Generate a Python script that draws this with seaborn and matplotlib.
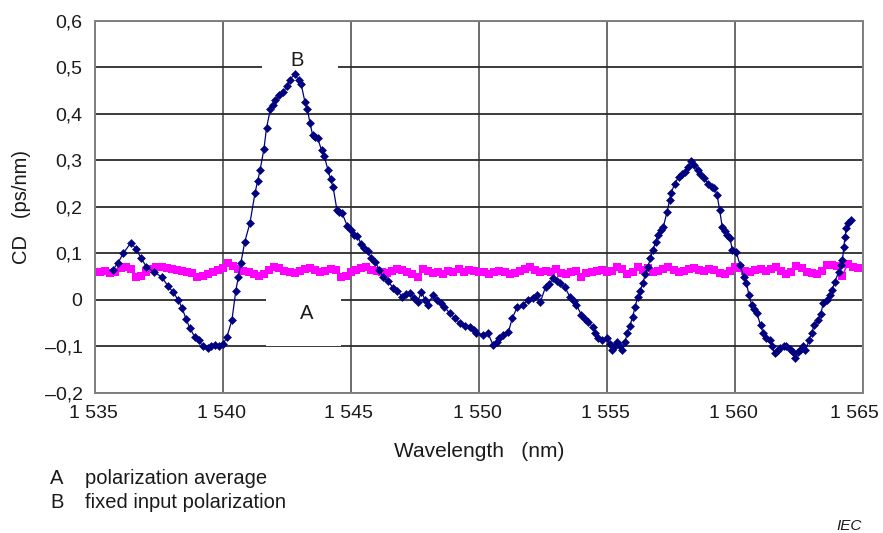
import numpy as np
import pandas as pd
import matplotlib
matplotlib.use("Agg")
import matplotlib.pyplot as plt
import matplotlib.transforms as mtransforms
import seaborn as sns
from matplotlib.patches import Rectangle
from matplotlib.ticker import FuncFormatter

# Fixed input polarization (B): wavelength (nm) and CD (ps/nm)
wl_fixed = [
    1535.7, 1535.9, 1536.1, 1536.4, 1536.6, 1536.8, 1537.0, 1537.3, 1537.6, 1537.85,
    1538.05, 1538.25, 1538.4, 1538.55, 1538.7, 1538.9, 1539.05, 1539.2, 1539.4, 1539.55,
    1539.7, 1539.85, 1540.0, 1540.15, 1540.35, 1540.5, 1540.6, 1540.7, 1540.85, 1541.05,
    1541.25, 1541.35, 1541.45, 1541.6, 1541.7, 1541.85, 1541.95, 1542.05, 1542.2, 1542.35,
    1542.5, 1542.6, 1542.8, 1542.95, 1543.05, 1543.2, 1543.3, 1543.4, 1543.5, 1543.6,
    1543.7, 1543.85, 1543.95, 1544.1, 1544.2, 1544.3, 1544.45, 1544.55, 1544.65, 1544.85,
    1545.0, 1545.1, 1545.25, 1545.4, 1545.5, 1545.65, 1545.8, 1545.95, 1546.1, 1546.25,
    1546.45, 1546.65, 1546.8, 1547.0, 1547.15, 1547.3, 1547.45, 1547.6, 1547.75, 1547.9,
    1548.0, 1548.2, 1548.35, 1548.5, 1548.65, 1548.85, 1549.05, 1549.25, 1549.45, 1549.65,
    1549.8, 1549.9, 1550.15, 1550.35, 1550.55, 1550.7, 1550.8, 1550.95, 1551.15, 1551.3,
    1551.5, 1551.7, 1551.9, 1552.1, 1552.25, 1552.4, 1552.6, 1552.75, 1552.9, 1553.05,
    1553.15, 1553.35, 1553.55, 1553.7, 1553.8, 1554.0, 1554.15, 1554.25, 1554.45, 1554.55,
    1554.65, 1554.8, 1555.0, 1555.1, 1555.2, 1555.3, 1555.4, 1555.5, 1555.6, 1555.7,
    1555.8, 1555.9, 1556.0, 1556.1, 1556.2, 1556.3, 1556.4, 1556.5, 1556.6, 1556.7,
    1556.8, 1556.9, 1557.0, 1557.1, 1557.2, 1557.35, 1557.45, 1557.5, 1557.65, 1557.8,
    1557.95, 1558.05, 1558.15, 1558.3, 1558.4, 1558.55, 1558.65, 1558.8, 1558.95, 1559.1,
    1559.2, 1559.3, 1559.4, 1559.5, 1559.6, 1559.7, 1559.8, 1559.9, 1560.05, 1560.2,
    1560.35, 1560.45, 1560.55, 1560.65, 1560.75, 1560.85, 1561.0, 1561.1, 1561.2, 1561.35,
    1561.45, 1561.55, 1561.65, 1561.75, 1561.9, 1562.0, 1562.15, 1562.25, 1562.35, 1562.45,
    1562.55, 1562.65, 1562.75, 1562.9, 1563.0, 1563.1, 1563.25, 1563.35, 1563.45, 1563.6,
    1563.7, 1563.8, 1563.9, 1564.05, 1564.15, 1564.2, 1564.25, 1564.3, 1564.35, 1564.4,
    1564.55,
]
cd_fixed = [
    0.065, 0.08, 0.1, 0.123, 0.11, 0.09, 0.072, 0.06, 0.05, 0.03,
    0.017, 0.0, -0.017, -0.04, -0.06, -0.08, -0.085, -0.1, -0.104, -0.098,
    -0.097, -0.1, -0.095, -0.08, -0.043, 0.02, 0.05, 0.08, 0.125, 0.165,
    0.23, 0.255, 0.28, 0.325, 0.37, 0.41, 0.42, 0.43, 0.44, 0.447,
    0.46, 0.473, 0.486, 0.473, 0.465, 0.426, 0.41, 0.38, 0.355, 0.35,
    0.348, 0.322, 0.31, 0.28, 0.26, 0.243, 0.194, 0.19, 0.187, 0.16,
    0.15, 0.14, 0.138, 0.12, 0.112, 0.105, 0.09, 0.082, 0.065, 0.05,
    0.04, 0.026, 0.02, 0.007, 0.012, 0.015, 0.005, -0.004, 0.017, 0.0,
    -0.01, 0.01, 0.0, -0.006, -0.015, -0.028, -0.038, -0.05, -0.055, -0.058,
    -0.065, -0.071, -0.075, -0.071, -0.097, -0.09, -0.082, -0.075, -0.069, -0.039,
    -0.015, -0.011, 0.0, 0.004, 0.01, -0.004, 0.028, 0.035, 0.047, 0.04,
    0.036, 0.028, 0.007, -0.002, -0.01, -0.032, -0.04, -0.047, -0.058, -0.07,
    -0.082, -0.085, -0.082, -0.095, -0.108, -0.1, -0.09, -0.1, -0.108, -0.09,
    -0.071, -0.055, -0.036, -0.015, 0.007, 0.02, 0.036, 0.055, 0.072, 0.09,
    0.108, 0.125, 0.14, 0.15, 0.157, 0.19, 0.215, 0.23, 0.25, 0.265,
    0.27, 0.275, 0.285, 0.298, 0.29, 0.28, 0.272, 0.262, 0.25, 0.243,
    0.24, 0.226, 0.194, 0.158, 0.148, 0.14, 0.133, 0.108, 0.103, 0.075,
    0.05, 0.036, 0.01, -0.01, -0.02, -0.028, -0.054, -0.07, -0.082, -0.086,
    -0.1, -0.115, -0.11, -0.103, -0.098, -0.1, -0.105, -0.111, -0.125, -0.112,
    -0.108, -0.1, -0.108, -0.086, -0.07, -0.054, -0.043, -0.03, -0.007, 0.0,
    0.01, 0.022, 0.039, 0.06, 0.075, 0.086, 0.114, 0.135, 0.155, 0.165,
    0.172,
]

# Polarization average (A): sampled every 0.2 nm from 1535.2 nm to 1564.8 nm
wl_avg = np.round(np.arange(1535.2, 1564.85, 0.2), 1)
cd_avg = [
    0.06, 0.062, 0.058, 0.06, 0.068, 0.07, 0.066, 0.05, 0.052, 0.06,
    0.066, 0.072, 0.07, 0.068, 0.066, 0.064, 0.062, 0.06, 0.058, 0.05,
    0.052, 0.056, 0.06, 0.065, 0.068, 0.08, 0.074, 0.066, 0.062, 0.06,
    0.055, 0.052, 0.056, 0.064, 0.07, 0.068, 0.062, 0.06, 0.058, 0.062,
    0.066, 0.068, 0.064, 0.06, 0.062, 0.066, 0.064, 0.05, 0.052, 0.06,
    0.065, 0.068, 0.07, 0.064, 0.062, 0.06, 0.058, 0.062, 0.066, 0.064,
    0.06, 0.055, 0.05, 0.066, 0.062, 0.058, 0.06, 0.056, 0.062, 0.06,
    0.066, 0.06, 0.064, 0.062, 0.06, 0.06, 0.056, 0.06, 0.062, 0.06,
    0.055, 0.058, 0.062, 0.066, 0.07, 0.064, 0.06, 0.062, 0.06, 0.066,
    0.058, 0.055, 0.06, 0.062, 0.05, 0.058, 0.06, 0.062, 0.064, 0.06,
    0.062, 0.07, 0.066, 0.055, 0.06, 0.07, 0.064, 0.068, 0.06, 0.062,
    0.066, 0.07, 0.064, 0.06, 0.062, 0.066, 0.068, 0.064, 0.062, 0.066,
    0.064, 0.058, 0.056, 0.062, 0.072, 0.068, 0.062, 0.06, 0.064, 0.066,
    0.062, 0.066, 0.07, 0.062, 0.056, 0.06, 0.074, 0.068, 0.06, 0.058,
    0.055, 0.062, 0.075, 0.076, 0.074, 0.052, 0.078, 0.07, 0.068,
]

x_ticks = [1535, 1540, 1545, 1550, 1555, 1560, 1565]
y_ticks = [-0.2, -0.1, 0.0, 0.1, 0.2, 0.3, 0.4, 0.5, 0.6]

sns.set_style("white")
plt.rcParams["font.family"] = ["Liberation Sans", "DejaVu Sans"]

FS = 14.5
TICK_FS = 14
TXT = "#1a1a1a"

fig = plt.figure(figsize=(8.83, 5.33), dpi=100)
ax = fig.add_axes([0.1076, 0.2627, 0.8697, 0.6979])

df_avg = pd.DataFrame({"wl": wl_avg, "cd": cd_avg})
df_fix = pd.DataFrame({"wl": wl_fixed, "cd": cd_fixed})

sns.lineplot(data=df_avg, x="wl", y="cd", ax=ax, color="#ff00ff", lw=1.2,
             marker="s", markersize=6.3, markeredgewidth=0, zorder=3)
sns.lineplot(data=df_fix, x="wl", y="cd", ax=ax, color="#000080", lw=0.9,
             marker="D", markersize=3.8, markeredgewidth=0.4,
             markeredgecolor="#000080", zorder=4)

ax.set_xlim(1535, 1565)
ax.set_ylim(-0.2, 0.6)
ax.set_xticks(x_ticks)
ax.set_yticks(y_ticks)
ax.xaxis.set_major_formatter(FuncFormatter(lambda v, p: f"{int(round(v)):,}".replace(",", " ")))
ax.yaxis.set_major_formatter(FuncFormatter(
    lambda v, p: "0" if abs(v) < 1e-9 else f"{v:.1f}".replace(".", ",").replace("-", "\u2013")))
ax.tick_params(axis="both", length=0, labelsize=TICK_FS, colors=TXT)
ax.tick_params(axis="x", pad=9)
ax.tick_params(axis="y", pad=9)

# nudge the wavelength labels slightly left so the last one stays inside the figure
for i, lbl in enumerate(ax.get_xticklabels()):
    dx = -9 if i == len(x_ticks) - 1 else -2
    lbl.set_transform(lbl.get_transform() +
                      mtransforms.ScaledTranslation(dx / 100, 0, fig.dpi_scale_trans))

ax.grid(True, axis="y", color="#2b2b2b", lw=1.3, zorder=0)
ax.grid(True, axis="x", color="#6a6a6a", lw=1.4, zorder=0)
ax.set_axisbelow(True)
for s in ax.spines.values():
    s.set_color("#808080")
    s.set_linewidth(1.4)

# white label boxes for the curve identifiers
ax.add_patch(Rectangle((1541.52, 0.49), 2.97, 0.055, facecolor="white",
                       edgecolor="none", zorder=1))
ax.add_patch(Rectangle((1541.68, -0.1), 2.93, 0.14, facecolor="white",
                       edgecolor="none", zorder=1))
ax.text(1542.9, 0.515, "B", fontsize=FS, ha="center", va="center", color=TXT, zorder=5)
ax.text(1543.25, -0.028, "A", fontsize=FS, ha="center", va="center", color=TXT, zorder=5)

ax.set_xlabel("Wavelength   (nm)", fontsize=15, color=TXT, labelpad=14)
ax.set_ylabel("CD   (ps/nm)", fontsize=FS, color=TXT, labelpad=10)

fig.text(50 / 883, 1 - 479 / 533, "A", fontsize=FS, va="center", color=TXT)
fig.text(85 / 883, 1 - 479 / 533, "polarization average", fontsize=FS, va="center", color=TXT)
fig.text(50 / 883, 1 - 503 / 533, "B", fontsize=FS, va="center", color=TXT)
fig.text(85 / 883, 1 - 503 / 533, "fixed input polarization", fontsize=FS, va="center", color=TXT)
fig.text(862 / 883, 1 - 526 / 533, "IEC", fontsize=11, style="italic", ha="right",
         va="center", color=TXT)

fig.savefig("out.png", dpi=100)
